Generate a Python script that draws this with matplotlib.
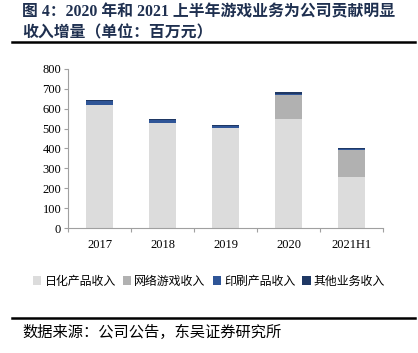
import numpy as np
import matplotlib.pyplot as plt
from matplotlib.lines import Line2D

plt.rcParams['font.family'] = ['Liberation Serif', 'Noto Sans CJK SC']

# datos (millones de yuanes)
years = ["2017", "2018", "2019", "2020", "2021H1"]
daily = [620, 530, 503, 548, 256]
games = [0, 0, 0, 120, 136]
printing = [20, 15, 12, 8, 7]
other = [5, 4, 4, 6, 5]

series = ["日化产品收入", "网络游戏收入", "印刷产品收入", "其他业务收入"]
colors = ["#dcdcdc", "#b1b1b1", "#2f5597", "#1f3864"]

fig = plt.figure(figsize=(4.18, 3.53), dpi=100)
ax = fig.add_axes([0.163, 0.354, 0.753, 0.451])

x = np.arange(len(years))
bottom = np.zeros(len(years))
for name, vals, c in zip(series, [daily, games, printing, other], colors):
    ax.bar(x, vals, bottom=bottom, width=0.43, color=c, label=name)
    bottom += np.array(vals)

ax.set_ylim(0, 800)
ax.set_yticks(range(0, 801, 100))
ax.set_xlim(-0.5, 4.5)
ax.set_xticks(np.arange(-0.5, 4.6, 1.0))
ax.set_xticklabels([])
ax.set_xticks(x, minor=True)
ax.set_xticklabels(years, minor=True)
ax.tick_params(axis="x", which="minor", length=0, pad=8, labelsize=9)
ax.tick_params(axis="x", which="major", length=3, color="#a0a0a0")
ax.tick_params(axis="y", length=3, color="#a0a0a0", labelsize=9, pad=2)
for s in ["top", "right"]:
    ax.spines[s].set_visible(False)
for s in ["left", "bottom"]:
    ax.spines[s].set_color("#a0a0a0")

ax.legend(loc="center", bbox_to_anchor=(0.5, 1 - 281 / 353), bbox_transform=fig.transFigure,
          ncol=4, frameon=False, handlelength=0.7, handleheight=0.7,
          handletextpad=0.25, columnspacing=0.6, prop={'family': 'Noto Sans CJK SC', 'size': 8.6})

# título y fuente
fig.text(0.053, 1 - 12 / 353, "图 4：2020 年和 2021 上半年游戏业务为公司贡献明显", fontsize=11.4,
         fontweight="bold", color="#1f3050", va="center", ha="left")
fig.text(0.053, 1 - 33 / 353, "收入增量（单位：百万元）", fontsize=11.4,
         fontweight="bold", color="#1f3050", va="center", ha="left")
fig.add_artist(Line2D([12 / 418, 415 / 418], [1 - 42 / 353] * 2, color="black", lw=1.8))
fig.add_artist(Line2D([12 / 418, 415 / 418], [1 - 318 / 353] * 2, color="black", lw=1.8))
fig.text(0.053, 1 - 332 / 353, "数据来源：公司公告，东吴证券研究所", fontsize=11,
         color="black", va="center", ha="left", family="Noto Sans CJK SC")

fig.savefig("out.png", dpi=100)
